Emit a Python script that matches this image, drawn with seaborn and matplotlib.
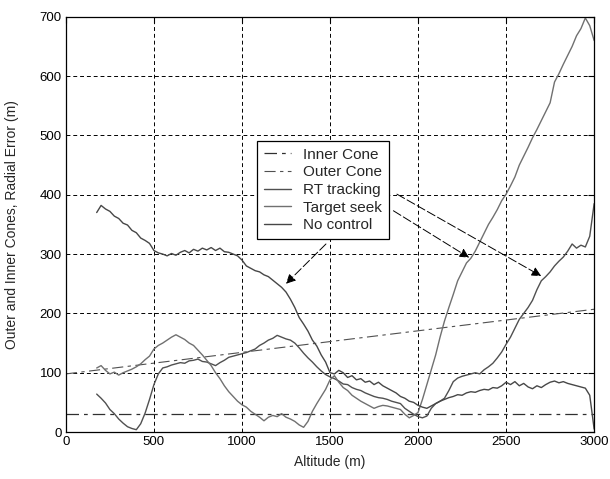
import numpy as np
import pandas as pd
import matplotlib
matplotlib.use("Agg")
import matplotlib.pyplot as plt
import seaborn as sns

# ---------------- data ----------------
altitude = np.arange(175, 3001, 25)

no_control = [
    370, 382, 376, 372, 364, 360, 352, 349,
    340, 336, 327, 323, 318, 306, 302, 300,
    297, 301, 298, 303, 306, 302, 308, 305,
    310, 307, 311, 306, 310, 304, 303, 300,
    297, 290, 280, 276, 272, 270, 265, 262,
    256, 250, 244, 236, 224, 210, 193, 182,
    170, 155, 145, 130, 118, 100, 98, 104,
    100, 92, 95, 88, 90, 84, 86, 80,
    84, 78, 74, 70, 66, 60, 57, 52,
    50, 45, 42, 40, 44, 48, 52, 55,
    58, 60, 63, 62, 66, 68, 67, 70,
    72, 71, 75, 74, 78, 84, 80, 85,
    78, 82, 76, 73, 78, 75, 80, 84,
    86, 83, 85, 82, 80, 78, 76, 74,
    62, 5,
]

target_seek = [
    108, 112, 104, 98, 101, 96, 100, 103,
    106, 110, 115, 122, 128, 140, 146, 150,
    155, 160, 164, 160, 156, 150, 146, 138,
    130, 121, 112, 100, 90, 78, 68, 60,
    52, 46, 42, 35, 30, 25, 19, 25,
    28, 26, 31, 25, 22, 18, 12, 8,
    18, 35, 48, 60, 72, 88, 95, 84,
    75, 70, 62, 57, 52, 48, 44, 40,
    43, 45, 44, 42, 40, 38, 30, 24,
    28, 33, 55, 80, 105, 130, 160, 187,
    210, 232, 255, 270, 285, 293, 305, 320,
    335, 350, 362, 375, 390, 401, 415, 430,
    450, 465, 480, 496, 510, 525, 540, 555,
    590, 604, 620, 635, 650, 668, 680, 698,
    685, 660,
]

rt_tracking = [
    64, 57, 49, 38, 31, 22, 15, 9,
    6, 4, 14, 32, 55, 80, 98, 108,
    110, 113, 115, 117, 116, 120, 121, 123,
    119, 118, 115, 112, 117, 121, 126, 128,
    130, 132, 134, 137, 140, 146, 150, 155,
    158, 163, 160, 157, 155, 150, 142, 133,
    125, 118, 110, 103, 97, 93, 90, 86,
    81, 80, 75, 72, 70, 66, 63, 60,
    58, 57, 55, 52, 50, 48, 40, 35,
    30, 26, 24, 27, 40, 48, 52, 57,
    70, 85, 91, 94, 96, 98, 100, 98,
    105, 110, 116, 125, 135, 148, 160, 175,
    190, 200, 210, 222, 240, 255, 262, 270,
    280, 288, 295, 305, 317, 310, 315, 312,
    330, 385,
]

cone_altitude = [0, 3000]
inner_cone = [30, 30]
outer_cone = [98, 207]

x_ticks = [0, 500, 1000, 1500, 2000, 2500, 3000]
y_ticks = [0, 100, 200, 300, 400, 500, 600, 700]

# ---------------- style ----------------
sns.set_style("white")
plt.rcParams["font.family"] = ["Liberation Sans", "DejaVu Sans"]
plt.rcParams["font.size"] = 9.5

fig = plt.figure(figsize=(6.10, 4.79), dpi=100)
ax = fig.add_axes([0.108, 0.098, 0.866, 0.867])

dashdot = (0, (10, 4, 3, 4))

sns.lineplot(x=cone_altitude, y=inner_cone, ax=ax, color="#303030", lw=0.9,
             label="Inner Cone", linestyle=dashdot)
sns.lineplot(x=cone_altitude, y=outer_cone, ax=ax, color="#505050", lw=0.8,
             label="Outer Cone", linestyle=dashdot)
sns.lineplot(x=altitude, y=rt_tracking, ax=ax, color="#505050", lw=1.0,
             label="RT tracking")
sns.lineplot(x=altitude, y=target_seek, ax=ax, color="#707070", lw=1.0,
             label="Target seek")
sns.lineplot(x=altitude, y=no_control, ax=ax, color="#474747", lw=1.0,
             label="No control")

ax.set_xlim(0, 3000)
ax.set_ylim(0, 700)
ax.set_xticks(x_ticks)
ax.set_yticks(y_ticks)
ax.set_axisbelow(True)
ax.grid(True, color="black", linestyle=(0, (4, 3)), lw=0.7)
ax.tick_params(direction="in", top=True, right=True, length=4, width=0.8,
               labelsize=9.5, colors="black", pad=3)
for s in ax.spines.values():
    s.set_color("black")
    s.set_linewidth(0.9)

ax.set_xlabel("Altitude (m)", fontsize=10, labelpad=5)
ax.set_ylabel("Outer and Inner Cones, Radial Error (m)", fontsize=10,
              labelpad=15)

leg = ax.legend(loc="upper left", bbox_to_anchor=(0.421, 0.706),
                bbox_transform=fig.transFigure, frameon=True, fancybox=False,
                fontsize=11, handlelength=1.8, handletextpad=0.75,
                borderpad=0.45, labelspacing=0.24, borderaxespad=0)
leg.get_frame().set_edgecolor("black")
leg.get_frame().set_linewidth(0.9)
leg.get_frame().set_facecolor("white")
leg.get_frame().set_alpha(1)

arrow_kw = dict(arrowstyle="-|>", color="black", lw=0.7,
                linestyle=(0, (9, 3)), mutation_scale=14,
                shrinkA=0, shrinkB=0)
ax.annotate("", xy=(2699, 263), xytext=(1880, 401), arrowprops=arrow_kw)
ax.annotate("", xy=(2290, 294), xytext=(1860, 373), arrowprops=arrow_kw)
ax.annotate("", xy=(1250, 250), xytext=(1477, 317), arrowprops=arrow_kw)

fig.savefig("out.png", dpi=100)
